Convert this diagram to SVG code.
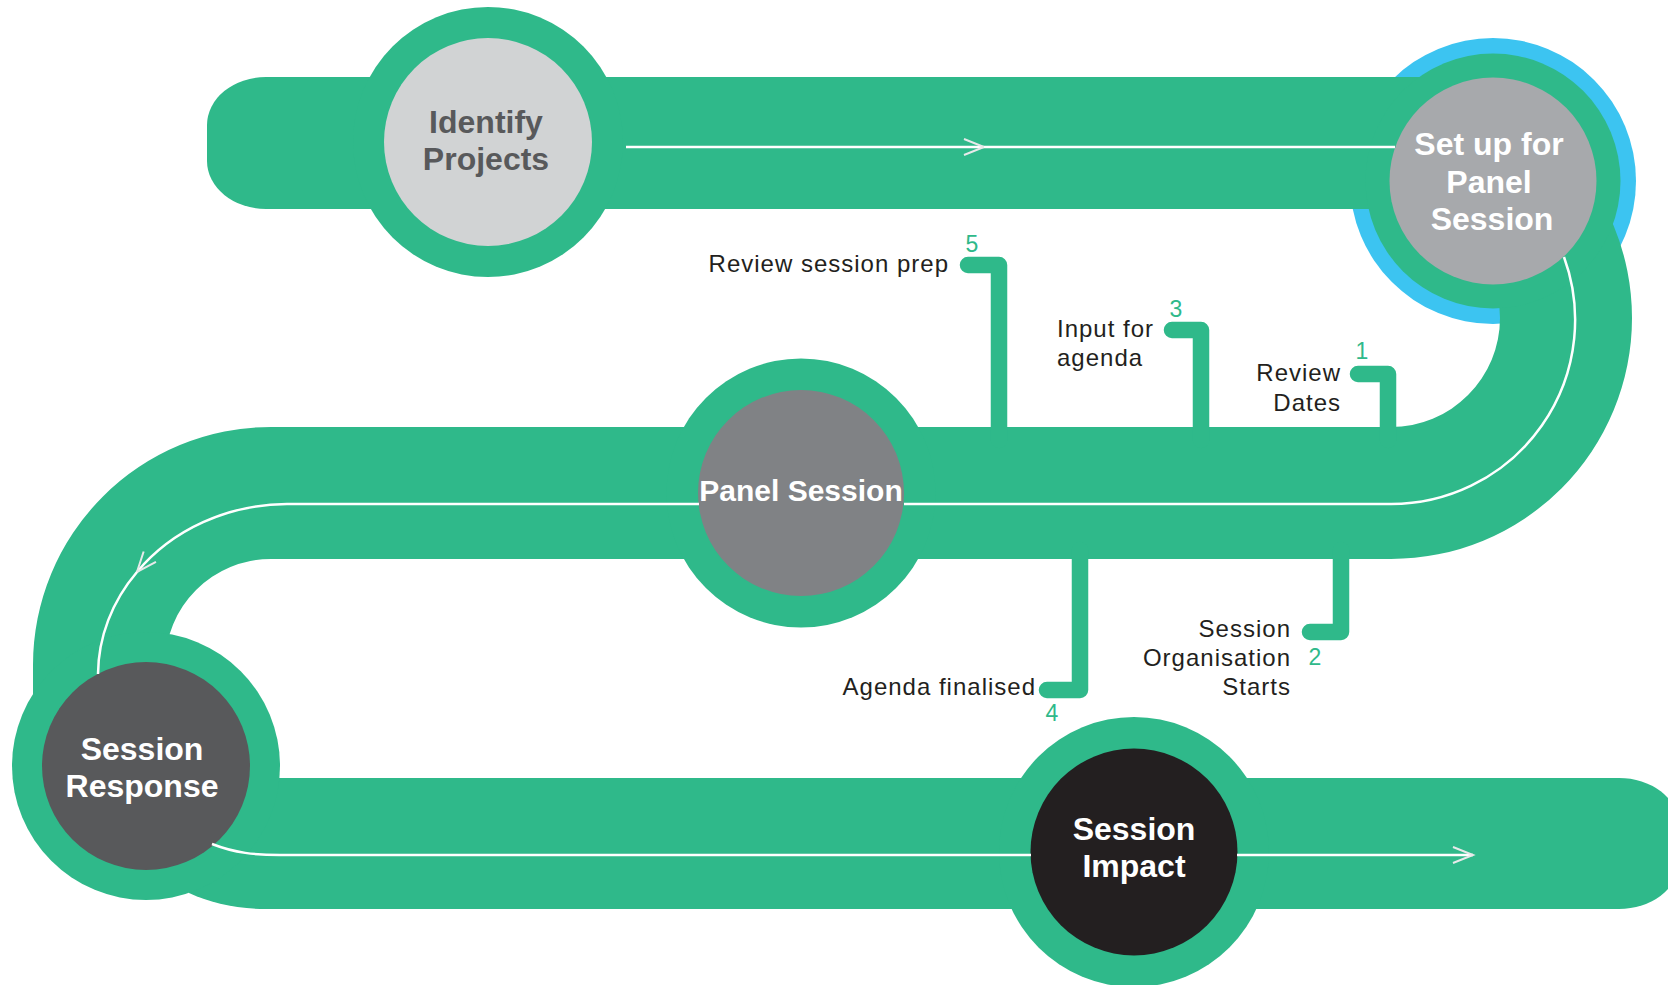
<svg xmlns="http://www.w3.org/2000/svg" width="1668" height="985" viewBox="0 0 1668 985">
<defs>
<style>
.road{fill:#2fb98a}
.flow{fill:none;stroke:#fff;stroke-width:2.5}
.lead{fill:none;stroke:#2fb98a;stroke-width:16.5;stroke-linecap:round;stroke-linejoin:round}
.h{font-family:"Liberation Sans",Arial,sans-serif;font-weight:700;font-size:32px;text-anchor:middle;fill:#fff}
.lbl{font-family:"Liberation Sans",Arial,sans-serif;font-size:24px;fill:#231f20;letter-spacing:1px}
.end{text-anchor:end}
.num{font-family:"Liberation Sans",Arial,sans-serif;font-size:23px;fill:#2fb98a;text-anchor:middle}
</style>
<marker id="chev" markerUnits="userSpaceOnUse" markerWidth="26" markerHeight="22" refX="21" refY="9" orient="auto" overflow="visible">
<path d="M1 1 L21 9 L1 17" fill="none" stroke="#e8e9ea" stroke-width="2"/>
</marker>
</defs>
<rect width="1668" height="985" fill="#fff"/>

<g id="track">
<circle cx="1493" cy="181" r="143" fill="#3cc4f1"/>
<path class="road" d="M1493 77 H266 A59 48 0 0 0 207 125 V161 A59 48 0 0 0 266 209 H1493 Z"/>
<path class="road" d="M1391 77 A241 241 0 0 1 1391 559 L1391 427 A109 109 0 0 0 1391 209 Z"/>
<rect class="road" x="270" y="427" width="1122" height="132"/>
<path class="road" d="M271 427 A238 238 0 0 0 33 665 V720 H165 V665 A106 106 0 0 1 271 559 Z"/>
<path class="road" d="M189 778 H1619 A59 45 0 0 1 1678 823 V864 A59 45 0 0 1 1619 909 H266 C236 909 211 903 189 893 Z"/>
</g>

<g id="callouts">
<g id="callout-5">
<path class="lead" d="M968 265 H999 V440"/>
<text class="num" x="972" y="252">5</text>
<text class="lbl end" x="949" y="272">Review session prep</text>
</g>
<g id="callout-3">
<path class="lead" d="M1172 330 H1201 V440"/>
<text class="num" x="1176" y="317">3</text>
<text class="lbl" x="1057" y="337">Input for</text>
<text class="lbl" x="1057" y="366">agenda</text>
</g>
<g id="callout-1">
<path class="lead" d="M1358 374 H1388 V440"/>
<text class="num" x="1362" y="359">1</text>
<text class="lbl end" x="1341" y="381">Review</text>
<text class="lbl end" x="1341" y="411">Dates</text>
</g>
<g id="callout-4">
<path class="lead" d="M1047 690 H1080 V550"/>
<text class="num" x="1052" y="721">4</text>
<text class="lbl end" x="1036" y="695">Agenda finalised</text>
</g>
<g id="callout-2">
<path class="lead" d="M1310 632 H1341 V550"/>
<text class="num" x="1315" y="665">2</text>
<text class="lbl end" x="1291" y="637">Session</text>
<text class="lbl end" x="1291" y="666">Organisation</text>
<text class="lbl end" x="1291" y="695">Starts</text>
</g>
</g>

<g id="node-identify">
<circle cx="488" cy="142" r="135" fill="#2fb98a"/>
<circle cx="488" cy="142" r="104" fill="#d1d3d4"/>
<text class="h" x="486" y="133" style="fill:#58595b">Identify</text>
<text class="h" x="486" y="170" style="fill:#58595b">Projects</text>
</g>
<g id="node-setup">
<circle cx="1493" cy="181" r="127.5" fill="#2fb98a"/>
<circle cx="1493" cy="181" r="103.5" fill="#a7a9ac"/>
<text class="h" x="1489" y="155">Set up for</text>
<text class="h" x="1489" y="193">Panel</text>
<text class="h" x="1492" y="230">Session</text>
</g>
<g id="node-panel">
<circle cx="801" cy="493" r="134.5" fill="#2fb98a"/>
<circle cx="801" cy="493" r="103" fill="#808285"/>
<text class="h" x="801" y="501" style="font-size:30px">Panel Session</text>
</g>
<g id="node-response">
<circle cx="146" cy="766" r="134" fill="#2fb98a"/>
<circle cx="146" cy="766" r="104" fill="#58595b"/>
<text class="h" x="142" y="760">Session</text>
<text class="h" x="142" y="797">Response</text>
</g>
<g id="node-impact">
<circle cx="1134" cy="852" r="135" fill="#2fb98a"/>
<circle cx="1134" cy="852" r="103.5" fill="#231f20"/>
<text class="h" x="1134" y="840">Session</text>
<text class="h" x="1134" y="877">Impact</text>
</g>

<g id="connectors">
<path class="flow" d="M626 147 H984" marker-end="url(#chev)"/>
<path class="flow" d="M984 147 H1395"/>
<path class="flow" d="M1564 257 A184 184 0 0 1 1391 504 H904"/>
<path class="flow" d="M699 504 H287 A189 170 0 0 0 137 572" marker-end="url(#chev)"/>
<path class="flow" d="M137 572 A189 170 0 0 0 98 674"/>
<path class="flow" d="M212 844 C235 853 255 855 280 855 H1031"/>
<path class="flow" d="M1237 855 H1473" marker-end="url(#chev)"/>
</g>
</svg>
